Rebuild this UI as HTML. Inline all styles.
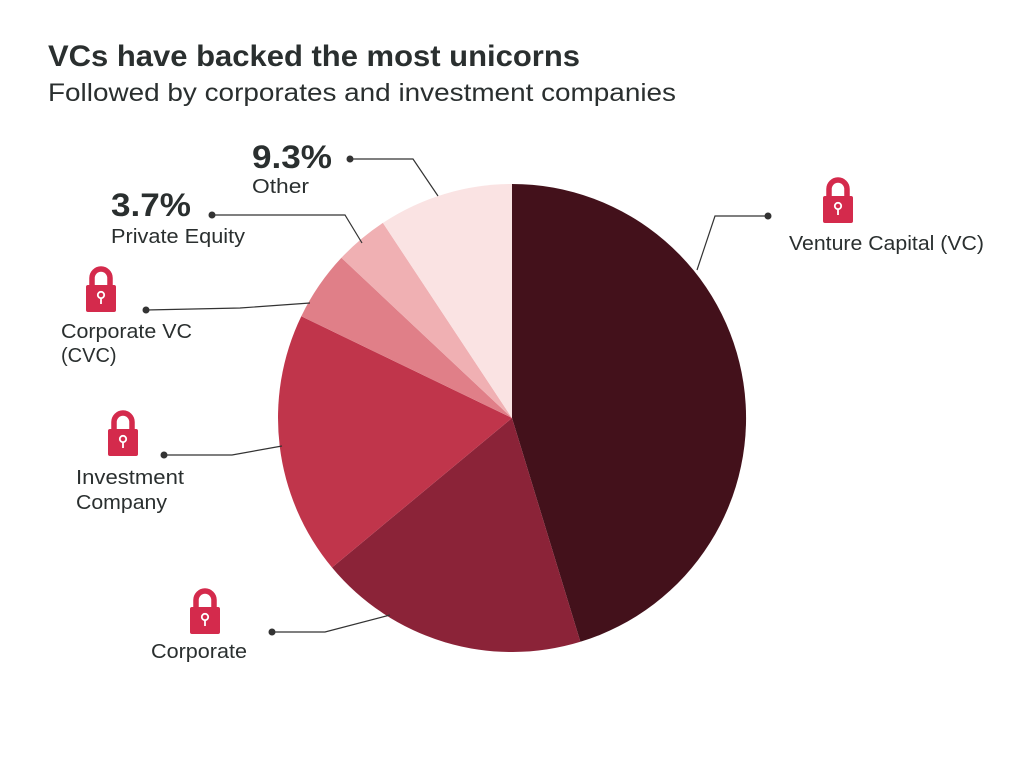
<!DOCTYPE html>
<html><head><meta charset="utf-8"><style>
body{margin:0;background:#fff;width:1024px;height:767px;overflow:hidden;font-family:"Liberation Sans",sans-serif;}
</style></head><body>
<svg width="1024" height="767" viewBox="0 0 1024 767" xmlns="http://www.w3.org/2000/svg" font-family="Liberation Sans, sans-serif">
<defs>
<g id="lock">
<path d="M-9,-4 V-11 A9,9 0 0 1 9,-11 V-4" fill="none" stroke="#d42a4c" stroke-width="5.5"/>
<rect x="-15" y="-4" width="30" height="27" rx="2" fill="#d42a4c"/>
<circle cx="0" cy="6" r="3.2" fill="none" stroke="#fff" stroke-width="1.8"/>
<line x1="0" y1="9" x2="0" y2="15" stroke="#fff" stroke-width="1.8"/>
</g>
</defs>
<text x="48" y="66" font-size="30" font-weight="bold" fill="#2a2f2f" textLength="532" lengthAdjust="spacingAndGlyphs">VCs have backed the most unicorns</text>
<text x="48" y="101" font-size="25" fill="#2a2f2f" textLength="628" lengthAdjust="spacingAndGlyphs">Followed by corporates and investment companies</text>
<g stroke="none">
<path d="M512,418 L512,184 A234,234 0 0 1 580.4,641.8 Z" fill="#43111b"/>
<path d="M512,418 L580.4,641.8 A234,234 0 0 1 332,567.5 Z" fill="#8b2338"/>
<path d="M512,418 L332,567.5 A234,234 0 0 1 301.3,316.2 Z" fill="#c0354b"/>
<path d="M512,418 L301.3,316.2 A234,234 0 0 1 341.4,257.8 Z" fill="#e07f88"/>
<path d="M512,418 L341.4,257.8 A234,234 0 0 1 382.9,222.9 Z" fill="#f0b0b3"/>
<path d="M512,418 L382.9,222.9 A234,234 0 0 1 512,184 Z" fill="#fae3e3"/>
</g>
<g fill="none" stroke="#333" stroke-width="1.2">
<polyline points="768,216 715,216 697,270"/>
<polyline points="350,159 413,159 438,196"/>
<polyline points="212,215 345,215 362,243"/>
<polyline points="146,310 240,308 310,303"/>
<polyline points="164,455 232,455 282,446"/>
<polyline points="272,632 325,632 390,615"/>
</g>
<g fill="#333">
<circle cx="768" cy="216" r="3.5"/><circle cx="350" cy="159" r="3.5"/><circle cx="212" cy="215" r="3.5"/>
<circle cx="146" cy="310" r="3.5"/><circle cx="164" cy="455" r="3.5"/><circle cx="272" cy="632" r="3.5"/>
</g>
<use href="#lock" x="838" y="200"/>
<use href="#lock" x="101" y="289"/>
<use href="#lock" x="123" y="433"/>
<use href="#lock" x="205" y="611"/>
<g fill="#2a2f2f" font-size="20">
<text x="789" y="250" textLength="195" lengthAdjust="spacingAndGlyphs">Venture Capital (VC)</text>
<text x="252" y="193" textLength="57" lengthAdjust="spacingAndGlyphs">Other</text>
<text x="111" y="243" textLength="134" lengthAdjust="spacingAndGlyphs">Private Equity</text>
<text x="61" y="338" textLength="131" lengthAdjust="spacingAndGlyphs">Corporate VC</text>
<text x="61" y="362">(CVC)</text>
<text x="76" y="484" textLength="108" lengthAdjust="spacingAndGlyphs">Investment</text>
<text x="76" y="509" textLength="91" lengthAdjust="spacingAndGlyphs">Company</text>
<text x="151" y="658" textLength="96" lengthAdjust="spacingAndGlyphs">Corporate</text>
</g>
<g fill="#2a2f2f" font-size="32" font-weight="bold">
<text x="252" y="168" textLength="80" lengthAdjust="spacingAndGlyphs">9.3%</text>
<text x="111" y="216" textLength="80" lengthAdjust="spacingAndGlyphs">3.7%</text>
</g>
</svg>
</body></html>
